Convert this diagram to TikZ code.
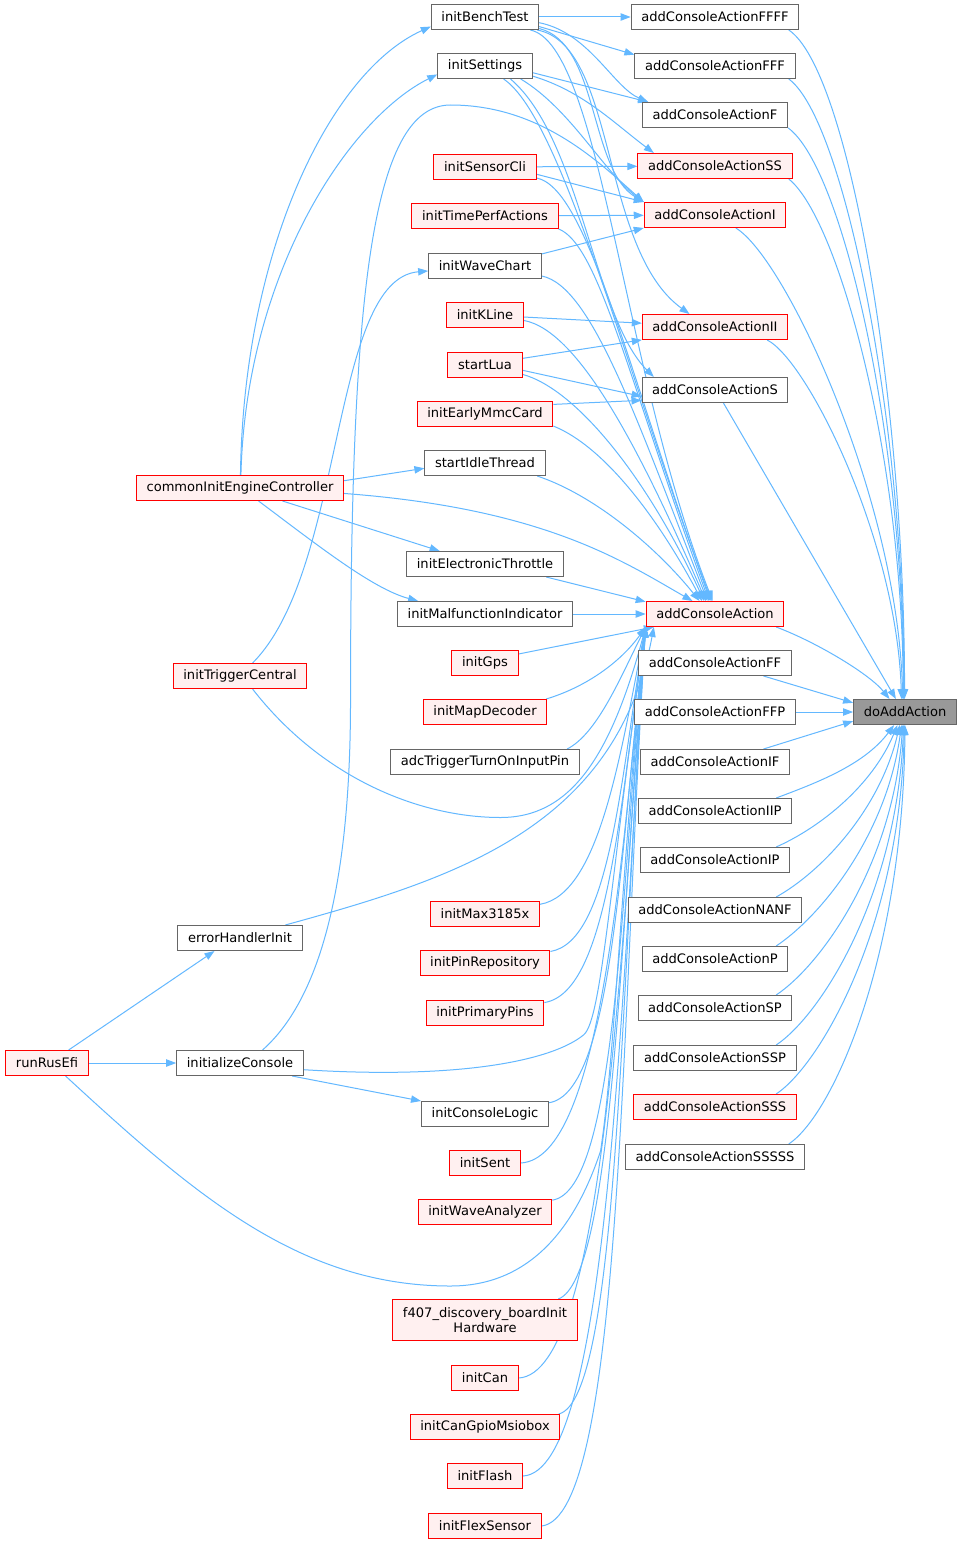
\documentclass[tikz,border=0pt]{standalone}
\usepackage{fontspec}
\setmainfont{DejaVu Sans}
\usetikzlibrary{arrows.meta}
\definecolor{edgeblue}{HTML}{63B8FF}
\definecolor{boxgray}{HTML}{666666}
\definecolor{redfill}{HTML}{FFF0F0}
\definecolor{rootfill}{HTML}{999999}
\pgfdeclarelayer{background}
\pgfsetlayers{background,main}
\begin{document}
\begin{tikzpicture}[x=0.75pt,y=0.75pt,
    fn/.style={draw=boxgray,fill=white,line width=0.75pt,minimum height=18.75pt,inner xsep=7.6pt,inner ysep=0pt,font=\fontsize{9.8}{11.25}\selectfont},
    fnred/.style={fn,draw=red,fill=redfill},
    fnroot/.style={fn,fill=rootfill},
    call/.style={draw=edgeblue,line width=0.75pt,-{Triangle[length=7.5pt,width=5.5pt]}}]
\useasboundingbox (0,0) rectangle (963,-1545);

\node[fnroot] (doadd) at (905,-712) {doAddAction};

\node[fn] (aFFFF) at (715,-17) {addConsoleActionFFFF};
\node[fn] (aFFF) at (715,-66) {addConsoleActionFFF};
\node[fn] (aF) at (715,-115) {addConsoleActionF};
\node[fnred] (aSS) at (715,-166) {addConsoleActionSS};
\node[fnred] (aI) at (715,-215) {addConsoleActionI};
\node[fnred] (aII) at (715,-327) {addConsoleActionII};
\node[fn] (aS) at (715,-390) {addConsoleActionS};
\node[fnred] (aBase) at (715,-614) {addConsoleAction};
\node[fn] (aFF) at (715,-663) {addConsoleActionFF};
\node[fn] (aFFP) at (715,-712) {addConsoleActionFFP};
\node[fn] (aIF) at (715,-762) {addConsoleActionIF};
\node[fn] (aIIP) at (715,-811) {addConsoleActionIIP};
\node[fn] (aIP) at (715,-860) {addConsoleActionIP};
\node[fn] (aNANF) at (715,-910) {addConsoleActionNANF};
\node[fn] (aP) at (715,-959) {addConsoleActionP};
\node[fn] (aSP) at (715,-1008) {addConsoleActionSP};
\node[fn] (aSSP) at (715,-1058) {addConsoleActionSSP};
\node[fnred] (aSSS) at (715,-1107) {addConsoleActionSSS};
\node[fn] (aSSSSS) at (715,-1157) {addConsoleActionSSSSS};

\node[fn] (bench) at (485,-17) {initBenchTest};
\node[fn] (settings) at (485,-66) {initSettings};
\node[fnred] (sensorcli) at (485,-167) {initSensorCli};
\node[fnred] (timeperf) at (485,-216) {initTimePerfActions};
\node[fn] (wavechart) at (485,-266) {initWaveChart};
\node[fnred] (kline) at (485,-315) {initKLine};
\node[fnred] (lua) at (485,-365) {startLua};
\node[fnred] (mmc) at (485,-414) {initEarlyMmcCard};
\node[fn] (idle) at (485,-463) {startIdleThread};
\node[fn] (etb) at (485,-564) {initElectronicThrottle};
\node[fn] (mil) at (485,-614) {initMalfunctionIndicator};
\node[fnred] (gps) at (485,-663) {initGps};
\node[fnred] (map) at (485,-712) {initMapDecoder};
\node[fn] (adc) at (485,-762) {adcTriggerTurnOnInputPin};
\node[fnred] (max) at (485,-914) {initMax3185x};
\node[fnred] (pinrepo) at (485,-963) {initPinRepository};
\node[fnred] (pins) at (485,-1013) {initPrimaryPins};
\node[fn] (logic) at (485,-1114) {initConsoleLogic};
\node[fnred] (sent) at (485,-1163) {initSent};
\node[fnred] (wave) at (485,-1212) {initWaveAnalyzer};
\node[fnred,minimum height=30.75pt,align=center] (f407) at (485,-1320) {f407\_discovery\_boardInit\\Hardware};
\node[fnred] (can) at (485,-1378) {initCan};
\node[fnred] (cangpio) at (485,-1427) {initCanGpioMsiobox};
\node[fnred] (flash) at (485,-1476) {initFlash};
\node[fnred] (flex) at (485,-1526) {initFlexSensor};

\node[fnred] (engine) at (240,-488) {commonInitEngineController};
\node[fnred] (trigger) at (240,-676) {initTriggerCentral};
\node[fn] (errh) at (240,-938) {errorHandlerInit};
\node[fn] (console) at (240,-1063) {initializeConsole};
\node[fnred] (rusefi) at (47,-1063) {runRusEfi};

\begin{pgfonlayer}{background}
\fill[white] (0,0) rectangle (963,-1545);
\draw[call] (aFFFF.-10) .. controls +(60,-40) and +(0,300) .. (doadd.92);
\draw[call] (aFFF.-10) .. controls +(55,-40) and +(0,280) .. (doadd.94);
\draw[call] (aF.-10) .. controls +(55,-40) and +(0,260) .. (doadd.96);
\draw[call] (aSS.-10) .. controls +(50,-40) and +(0,240) .. (doadd.98);
\draw[call] (aI.-32) .. controls +(50,-30) and +(-5,200) .. (doadd.100);
\draw[call] (aII.-14) .. controls +(40,-20) and +(-5,160) .. (doadd.105);
\draw[call] (aS.-57) -- (doadd.125);
\draw[call] (aBase.-12) .. controls +(40,-15) and +(-20,25) .. (doadd.140);
\draw[call] (aFF.-15) -- (doadd.170);
\draw[call] (aFFP) -- (doadd);
\draw[call] (aIF.15) -- (doadd.190);
\draw[call] (aIIP.12) .. controls +(40,15) and +(-30,-40) .. (doadd.-130);
\draw[call] (aIP.12) .. controls +(45,20) and +(-25,-60) .. (doadd.-120);
\draw[call] (aNANF.12) .. controls +(45,25) and +(-20,-85) .. (doadd.-112);
\draw[call] (aP.12) .. controls +(45,30) and +(-15,-110) .. (doadd.-105);
\draw[call] (aSP.12) .. controls +(45,30) and +(-10,-140) .. (doadd.-100);
\draw[call] (aSSP.12) .. controls +(45,30) and +(-7,-170) .. (doadd.-96);
\draw[call] (aSSS.12) .. controls +(45,30) and +(-4,-200) .. (doadd.-93);
\draw[call] (aSSSSS.10) .. controls +(45,30) and +(-2,-230) .. (doadd.-90);

\draw[call] (bench) -- (aFFFF);
\draw[call] (bench.-10) -- (aFFF.172);
\draw[call] (bench.-6) .. controls +(50,-10) and +(-35,15) .. (aF.169);
\draw[call] (bench.-12) .. controls +(60,-15) and +(-55,33) .. (aI.north west);
\draw[call] (bench.-14) .. controls +(80,-15) and +(-90,65) .. (aII.153);
\draw[call] (bench.-16) .. controls +(70,-15) and +(-90,230) .. (aBase.100);
\draw[call] (settings.-8) -- (aF.169);
\draw[call] (settings.-12) .. controls +(50,-15) and +(-40,30) .. (aSS.168);
\draw[call] (settings.-20) .. controls +(50,-30) and +(-40,30) .. (aI.north west);
\draw[call] (settings.-27) .. controls +(70,-60) and +(-60,60) .. (aS.168);
\draw[call] (settings.-35) .. controls +(60,-40) and +(-80,210) .. (aBase.105);
\draw[call] (sensorcli) -- (aSS);
\draw[call] (sensorcli.-8) -- (aI.north west);
\draw[call] (sensorcli.-12) .. controls +(50,-10) and +(-85,240) .. (aBase.110);
\draw[call] (timeperf) -- (aI);
\draw[call] (timeperf.-10) .. controls +(40,-15) and +(-80,220) .. (aBase.115);
\draw[call] (wavechart.12) -- (aI.south west);
\draw[call] (wavechart.-10) .. controls +(50,-10) and +(-70,180) .. (aBase.120);
\draw[call] (kline) -- (aII);
\draw[call] (kline.-8) .. controls +(55,-10) and +(-65,150) .. (aBase.125);
\draw[call] (lua.10) -- (aII.190);
\draw[call] (lua.-8) -- (aS.185);
\draw[call] (lua.-14) .. controls +(55,-15) and +(-55,120) .. (aBase.130);
\draw[call] (mmc.8) -- (aS.188);
\draw[call] (mmc.-10) .. controls +(50,-20) and +(-45,85) .. (aBase.135);
\draw[call] (idle.-14) .. controls +(60,-20) and +(-40,50) .. (aBase.140);
\draw[call] (etb.-12) -- (aBase.170);
\draw[call] (mil) -- (aBase);
\draw[call] (gps.15) -- (aBase.192);
\draw[call] (map.12) .. controls +(40,12) and +(-25,-35) .. (aBase.south west);
\draw[call] (adc.9) .. controls +(30,15) and +(-25,-50) .. (aBase.south west);
\draw[call] (max.10) .. controls +(60,10) and +(-25,-125) .. (aBase.south west);
\draw[call] (pinrepo.10) .. controls +(60,10) and +(-25,-150) .. (aBase.south west);
\draw[call] (pins.10) .. controls +(65,10) and +(-25,-170) .. (aBase.south west);
\draw[call] (logic.10) .. controls +(65,10) and +(-25,-215) .. (aBase.south west);
\draw[call] (sent.east) .. controls +(80,5) and +(-25,-240) .. (aBase.south west);
\draw[call] (wave.10) .. controls +(65,10) and +(-25,-260) .. (aBase.south west);
\draw[call] (f407.16) .. controls +(55,20) and +(-25,-300) .. (aBase.south west);
\draw[call] (can.east) .. controls +(85,5) and +(-25,-330) .. (aBase.south west);
\draw[call] (cangpio.10) .. controls +(60,15) and +(-25,-355) .. (aBase.south west);
\draw[call] (flash.east) .. controls +(85,5) and +(-25,-380) .. (aBase.south west);
\draw[call] (flex.east) .. controls +(80,10) and +(-25,-400) .. (aBase.south west);

\draw[call] (engine.88) .. controls +(3,226) and +(-100,-45) .. (bench.190);
\draw[call] (engine.86) .. controls +(5,200) and +(-90,-45) .. (settings.190);
\draw[call] (engine.4) -- (idle.185);
\draw[call] (engine.-17) -- (etb.164);
\draw[call] (engine.-35) .. controls +(60,-45) and +(-45,12) .. (mil.169);
\draw[call] (engine.-3) .. controls +(200,-15) and +(-70,40) .. (aBase.150);
\draw[call] (trigger.46) .. controls +(93,93) and +(-98,-8) .. (wavechart.185);
\draw[call] (trigger.-46) .. controls +(70,-90) and +(-80,0) .. ++(248,-128.5)
    .. controls +(70,0) and +(-35,-130) .. (aBase.south west);
\draw[call] (errh.16) .. controls +(167,46) and +(-38,-202) .. (aBase.192);
\draw[call] (console.-6) .. controls +(160,-10) and +(-30,-25) .. ++(280,35)
    .. controls +(18,15) and +(-35,-250) .. (aBase.south west);
\draw[call] (console.-14) -- (logic.north west);
\draw[call] (console.30) .. controls +(68,60) and +(0,-150) .. ++(88,350)
    .. controls +(0,400) and +(-80,0) .. ++(100,595)
    .. controls +(90,0) and +(-45,40) .. (aI.north west);
\draw[call] (rusefi.31) -- (errh.207);
\draw[call] (rusefi) -- (console);
\draw[call] (rusefi.-35) .. controls +(130,-120) and +(-150,0) .. ++(385,-210)
    .. controls +(90,0) and +(-20,-60) .. ++(150,135)
    .. controls +(15,100) and +(-25,-250) .. (aBase.south west);
\end{pgfonlayer}
\end{tikzpicture}
\end{document}
